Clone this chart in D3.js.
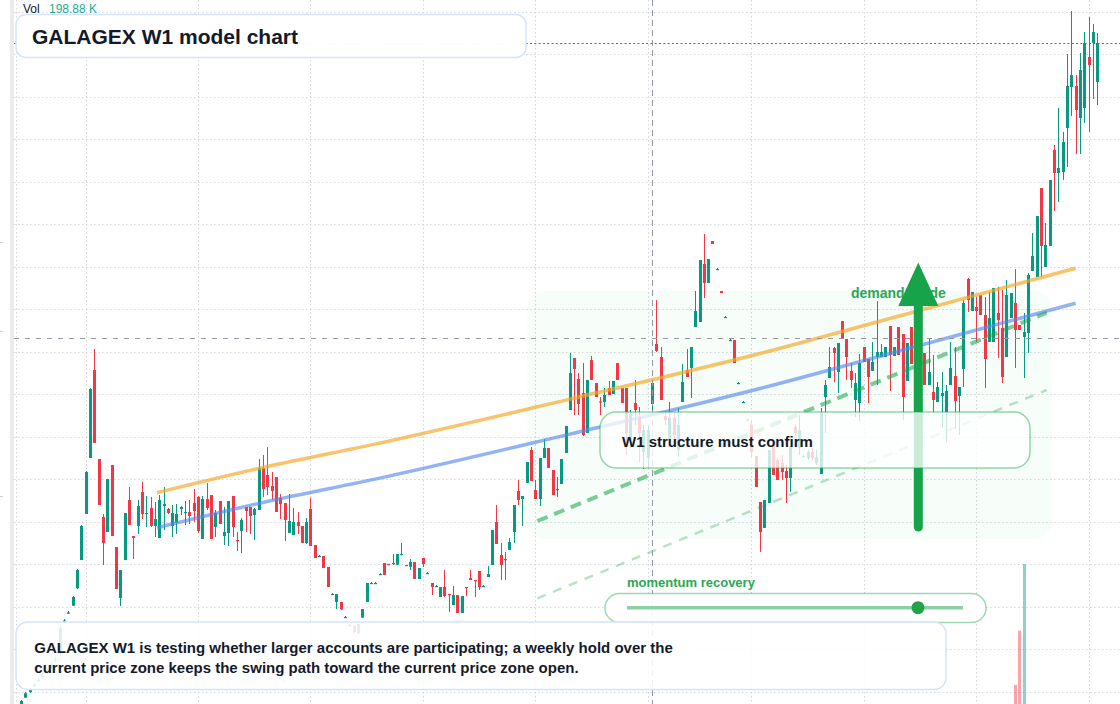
<!DOCTYPE html>
<html><head><meta charset="utf-8">
<script src="https://cdn.jsdelivr.net/npm/d3@7"></script>
<style>html,body{margin:0;padding:0;background:#fff;}svg{display:block;}</style>
</head><body>
<svg id="c" width="1120" height="704"></svg>
<script>
// ---------- data (weekly candles, price units) ----------
const open = [
0,6.3,12,18,23,27,32,37,43,51,
82,90.5,98.3,115.7,144,190,246,334,245,187,
172,239,157,106,144,204,168,178,212,190.5,
196,178,166,198,195,178,181,195,191.5,192,
201,207,165,205,209,177,203,168,171,208,
164,173,197,197,189,194,236,229,218,227,
206,201,171,169,182,178,161,195,159,147.5,
148,137,109.5,102,102,86.5,78,78,71,86.5,
102,120.5,120.5,129.5,141,140,140,139.3,149.5,139,
137.3,142,125,146,130.5,121,117.5,107,117,110,
99,109,91,117,126,124,133,117.5,127,139,
182,149,145,154,172,213,205,221,254,214,
205,246,256,234,214.5,220,251,294,346,325,
311,271,344,321,302.5,302,316,310,341,316,
316,264,301,287,252,246,300,360,347,288,
264,286,254,302,334,336,377,382,440,421,
463,434.5,413,386.5,363.5,364,320.5,301.5,284.5,279,
248,202,176,201,259,244,241,233,226,277,
256,247.5,246,252,241,230,307,326,356,332,
383,365,333,304,301,357,345,333,347,347,
347,378,348,377,370,323,377,339,364,351,
319,312,302,308,292,319,328,308,335,425,
393,397,409,389,362,362,391,376,347,386,
401,379,367,371,433,427,516,437,458,554,
531,532,576,617,618,586,596,647,661,622];
const high = [
4,12,16,21,26,31,36,42,47,78,
85,93,108,135,179,233,316,355,245,190,
225,239,157,134,191,217,168,204,222,208,
207,202,209,217,196,199,200,198,203,204,
215,208,208,221,209,194,203,197,203,208,
172,186,197,197,196,245,249,257,232,227,
210,201,210,196,192,178,186,206,159,149,
148,137,111,110,102,88,80,79,81,95,
121,122,122,131,141,140,150,150,161,139,
145,142,136,146,132,121,119,117,134,110,
118,109,108,117,134,124,133,119,138,174,
199,161,152,166,199,224,208,242,257,224,
246,265,256,234,227,245,278,351,346,331,
341,324,348,321,307,316,323,323,341,316,
316,294,324,297,279,279,322,404,357,292,
302,292,296,340,355,357,413,444,470,445,
463,436,413,388,365,364,322,303,285,284,
248,202,204,254,259,246,249,239,258,279,
289,249,254,256,254,296,324,357,357,361,
383,365,341,331,350,357,345,362,403,360,
357,378,357,377,370,361,377,369,368,351,
366,349,322,332,319,362,357,317,404,426,
412,407,409,407,412,416,417,414,424,411,
435,379,391,431,471,488,516,481,524,559,
596,572,650,693,629,651,672,687,680,671];
const low = [
0,6,11,17,22,26,30,36,42,49,
81,90,98,115,144,190,246,261,199,139,
172,168,115,98,144,179,145,170,185,177,
177,167,166,174,190,167,170,189,179,180,
182,171,165,194,165,167,180,159,158,167,
153,151,172,170,164,194,207,209,204,192,
185,163,171,169,170,161,160,158,146,147,
136,117,109,95,94,86,77,71,70,86,
102,120,120,129,129,139,139,139,149,138,
134,125,125,137,130,109,117,107,107,92,
99,91,91,108,124,107,114,117,127,139,
160,124,124,154,161,199,178,221,223,205,
198,246,236,209,207,220,251,294,289,289,
268,271,324,307,289,297,309,310,324,301,
249,256,279,242,235,236,292,352,304,279,
259,259,247,302,327,306,377,382,406,421,
460,434,411,386,363,341,320,301,283,246,
217,152,176,201,229,224,224,201,212,269,
249,247,244,244,239,230,271,326,322,311,
365,324,316,287,283,342,301,333,319,347,
347,313,348,349,284,323,340,334,344,319,
319,292,302,276,262,319,275,269,317,392,
393,362,389,316,362,362,346,321,347,386,
336,374,326,351,433,427,427,437,458,493,
502,524,537,588,550,550,581,572,605,599];
const close = [
3,10.7,15,19.5,24,29,34,40,44.5,76,
83.5,91.5,107,134,178,232,315,261,199,161,
225,168,115,134,191,179,166,198,190,191,
178,185,204,200,191,191,190,197,192,188,
193,173,205,196,165,191,180,172,203,177,
163,184,193,188,195,236,215,217,213,192,
200,184,183,182,178,161,182,158,146,148,
136,117,110,110,94.5,87,79,72,80,95,
121,121,121,130,129,139,141,150,150,138.5,
142,125,136,140,131,117,118,117,108,109,
109,91,108,116,124,123,117,118,130,174,
160,139,144,162,199,204,208,242,223,205,
246,256,236,209,215,245,278,331,335,300,
269,324,324,307,302,309,309,323,324,301,
271,290,294,271,274,274,321,353,304,284,
286,269,279,322,327,357,393,444,421,445,
460,435,411,387,364,341,321,302,283.5,252,
217,172,204,254,229,224,232,226,258,271,
274,248,252,246,247,291,319,337,351,361,
365,347,324,321,341,342,327,342,352,352,
357,349,357,349,307,361,340,364,352,319,
332,304,317,311,313,336,303,317,401,404,
412,393,389,345,386,416,384,327,409,411,
374,374,372,429,448,488,458,459,524,531,
536,562,618,629,594,634,661,639,672,661];

const volIndex = [230, 231, 232];
const volValueK = [27.0, 104.2, 198.88];

const timeTicks = [-1.1, 15, 41, 67, 93, 119, 145, 169, 195, 221, 247];
const priceTicks = [12.3, 54.8, 97.3, 139.7, 182.3, 224.7, 267.3, 309.7, 352.3, 394.7, 437.2, 479.7, 522.2, 564.7, 607.2, 649.7, 692.2];

const bandIdx = [31.5, 57, 83, 127, 171, 203, 244];
const bandUpper = [211.3, 237.5, 260.9, 304.9, 350.5, 387.8, 435.8];
const bandLower = [176.3, 202.5, 225.9, 269.9, 315.5, 352.8, 400.8];

const channelIdx = [119.5, 237.3];
const channelUpper = [183, 391.3];
const channelLower = [105.7, 314];

const crossIdx = 146, crossPrice = 365.7;

const titleText = "GALAGEX W1 model chart";
const noteLines = [
  "GALAGEX W1 is testing whether larger accounts are participating; a weekly hold over the",
  "current price zone keeps the swing path toward the current price zone open."
];
const zoneLabel = "demand guide";
const confirmLabel = "W1 structure must confirm";
const sliderLabel = "momentum recovery";
const volLabel = "Vol", volReading = "198.88 K";

// ---------- drawing ----------
const W = 1120, H = 704;
const FONT = "'Liberation Sans', Arial, Helvetica, sans-serif";
const UP = "#089981", DOWN = "#f23645", GREEN = "#16a34a";
const svg = d3.select("#c");

const x = d3.scaleLinear().domain([0, 249]).range([20.86, 1097.2]);
const y = d3.scaleLinear().domain([0, 704]).range([704, 0]);
const vy = d3.scaleLinear().domain([0, 198.88]).range([704, 564]);

svg.append("rect").attr("width", W).attr("height", H).attr("fill", "#fff");

// left strip and tiny marks
svg.append("rect").attr("x", 10).attr("y", 0).attr("width", 4).attr("height", H).attr("fill", "#ebebeb");
[242, 331, 496].forEach(t => svg.append("rect").attr("x", 0).attr("y", t).attr("width", 3).attr("height", 1).attr("fill", "#cfcfcf"));

// grid
const grid = svg.append("g").attr("stroke", "#d3d6dc").attr("stroke-width", 1).attr("stroke-dasharray", "1.5 2.5");
grid.selectAll("line.v").data(timeTicks).join("line")
  .attr("x1", d => Math.round(x(d)) + 0.5).attr("x2", d => Math.round(x(d)) + 0.5)
  .attr("y1", 0).attr("y2", H);
grid.selectAll("line.h").data(priceTicks).join("line")
  .attr("x1", 14).attr("x2", W)
  .attr("y1", d => Math.round(y(d)) + 0.5).attr("y2", d => Math.round(y(d)) + 0.5);

// demand zone shading
svg.append("rect").attr("x", 527).attr("y", 291).attr("width", 525).attr("height", 248)
  .attr("rx", 18).attr("fill", "#22c55e").attr("opacity", 0.035);

// volume
svg.append("g").selectAll("rect").data(volIndex.map((d, k) => ({i: d, v: volValueK[k]}))).join("rect")
  .attr("x", d => Math.round(x(d.i)) - 1).attr("width", 3)
  .attr("y", d => vy(d.v)).attr("height", d => H - vy(d.v))
  .attr("fill", d => close[d.i] >= open[d.i] ? UP : DOWN).attr("opacity", 0.45);

// candles
const candles = d3.range(open.length).map(i => ({i, o: open[i], h: high[i], l: low[i], c: close[i]}));
const cg = svg.append("g");
const cs = cg.selectAll("g").data(candles).join("g")
  .attr("fill", d => d.c >= d.o ? UP : DOWN);
cs.append("rect")
  .attr("x", d => Math.round(x(d.i)))
  .attr("width", 1)
  .attr("y", d => y(d.h))
  .attr("height", d => Math.max(1, y(d.l) - y(d.h)));
cs.append("rect")
  .attr("x", d => Math.round(x(d.i)) - 1)
  .attr("width", 3)
  .attr("y", d => y(Math.max(d.o, d.c)))
  .attr("height", d => Math.max(1.2, Math.abs(y(d.o) - y(d.c))));

// band lines
const bandLine = d3.line().x(d => x(d[0])).y(d => y(d[1])).curve(d3.curveMonotoneX);
svg.append("path").attr("d", bandLine(bandIdx.map((d, k) => [d, bandUpper[k]])))
  .attr("fill", "none").attr("stroke", "#f5a623").attr("stroke-opacity", 0.68).attr("stroke-width", 3.5).attr("stroke-linecap", "butt");
svg.append("path").attr("d", bandLine(bandIdx.map((d, k) => [d, bandLower[k]])))
  .attr("fill", "none").attr("stroke", "#4f86ee").attr("stroke-opacity", 0.62).attr("stroke-width", 3.5);

// channel dashed lines
const chLine = d3.line().x(d => x(d[0])).y(d => y(d[1]));
svg.append("path").attr("d", chLine(channelIdx.map((d, k) => [d, channelUpper[k]])))
  .attr("fill", "none").attr("stroke", GREEN).attr("stroke-opacity", 0.55).attr("stroke-width", 4).attr("stroke-dasharray", "11 7");
svg.append("path").attr("d", chLine(channelIdx.map((d, k) => [d, channelLower[k]])))
  .attr("fill", "none").attr("stroke", GREEN).attr("stroke-opacity", 0.3).attr("stroke-width", 2.5).attr("stroke-dasharray", "9 8");

// crosshair
const cx = Math.round(x(crossIdx)) + 0.5, cyy = Math.round(y(crossPrice)) + 0.5;
svg.append("line").attr("x1", cx).attr("x2", cx).attr("y1", 0).attr("y2", H)
  .attr("stroke", "#9598a1").attr("stroke-width", 1).attr("stroke-dasharray", "6 4");
svg.append("line").attr("x1", 14).attr("x2", W).attr("y1", cyy).attr("y2", cyy)
  .attr("stroke", "#9598a1").attr("stroke-width", 1).attr("stroke-dasharray", "5 6");

// last price line
const lastY = Math.round(y(close[close.length - 1])) + 0.5;
svg.append("line").attr("x1", 14).attr("x2", W).attr("y1", lastY).attr("y2", lastY)
  .attr("stroke", UP).attr("stroke-width", 1.2).attr("stroke-dasharray", "2 2.3");

// zone label + arrow
svg.append("text").attr("x", 851).attr("y", 298).text(zoneLabel)
  .attr("font-family", FONT).attr("font-weight", "bold").attr("font-size", 14).attr("fill", "#2aa855");
svg.append("line").attr("x1", 918.3).attr("x2", 918.3).attr("y1", 527).attr("y2", 300)
  .attr("stroke", GREEN).attr("stroke-width", 9).attr("stroke-linecap", "round");
svg.append("path").attr("d", "M898.3,306 L938.3,306 L918.3,262.5 Z").attr("fill", GREEN);

// confirm box
svg.append("rect").attr("x", 600).attr("y", 412).attr("width", 430).attr("height", 56).attr("rx", 16)
  .attr("fill", "#fff").attr("fill-opacity", 0.78)
  .attr("stroke", GREEN).attr("stroke-opacity", 0.45).attr("stroke-width", 1.5);
svg.append("text").attr("x", 622).attr("y", 446.5).text(confirmLabel)
  .attr("font-family", FONT).attr("font-weight", "bold").attr("font-size", 15).attr("fill", "#131a2b");

// momentum slider
svg.append("text").attr("x", 627).attr("y", 587).text(sliderLabel)
  .attr("font-family", FONT).attr("font-weight", "bold").attr("font-size", 13).attr("fill", "#2aa855");
svg.append("rect").attr("x", 605).attr("y", 593.5).attr("width", 381).attr("height", 29).attr("rx", 14.5)
  .attr("fill", "#fff").attr("fill-opacity", 0.92)
  .attr("stroke", GREEN).attr("stroke-opacity", 0.42).attr("stroke-width", 1.5);
svg.append("line").attr("x1", 627).attr("x2", 963).attr("y1", 607.7).attr("y2", 607.7)
  .attr("stroke", GREEN).attr("stroke-opacity", 0.5).attr("stroke-width", 3.5);
svg.append("circle").attr("cx", 918).attr("cy", 607.7).attr("r", 6.5).attr("fill", "#22a34a");

// note box
svg.append("rect").attr("x", 16).attr("y", 622).attr("width", 930).attr("height", 67.5).attr("rx", 12)
  .attr("fill", "#fff").attr("fill-opacity", 0.86)
  .attr("stroke", "#d6e3f7").attr("stroke-width", 1.5);
svg.append("g").selectAll("text").data(noteLines).join("text")
  .attr("x", 34.3).attr("y", (d, k) => 653.3 + k * 20).text(d => d)
  .attr("font-family", FONT).attr("font-weight", "bold").attr("font-size", 15).attr("fill", "#131a2b");

// title box
svg.append("rect").attr("x", 16).attr("y", 14.5).attr("width", 510).attr("height", 43).attr("rx", 10)
  .attr("fill", "#fff").attr("fill-opacity", 0.95)
  .attr("stroke", "#d6e3f7").attr("stroke-width", 1.5);
svg.append("text").attr("x", 32).attr("y", 43.5).text(titleText)
  .attr("font-family", FONT).attr("font-weight", "bold").attr("font-size", 21).attr("fill", "#131a2b");

// volume legend
svg.append("text").attr("x", 23).attr("y", 12.5).text(volLabel)
  .attr("font-family", FONT).attr("font-size", 12).attr("fill", "#131722");
svg.append("text").attr("x", 49).attr("y", 12.5).text(volReading)
  .attr("font-family", FONT).attr("font-size", 12).attr("fill", "#22ab94");
</script>
</body></html>
